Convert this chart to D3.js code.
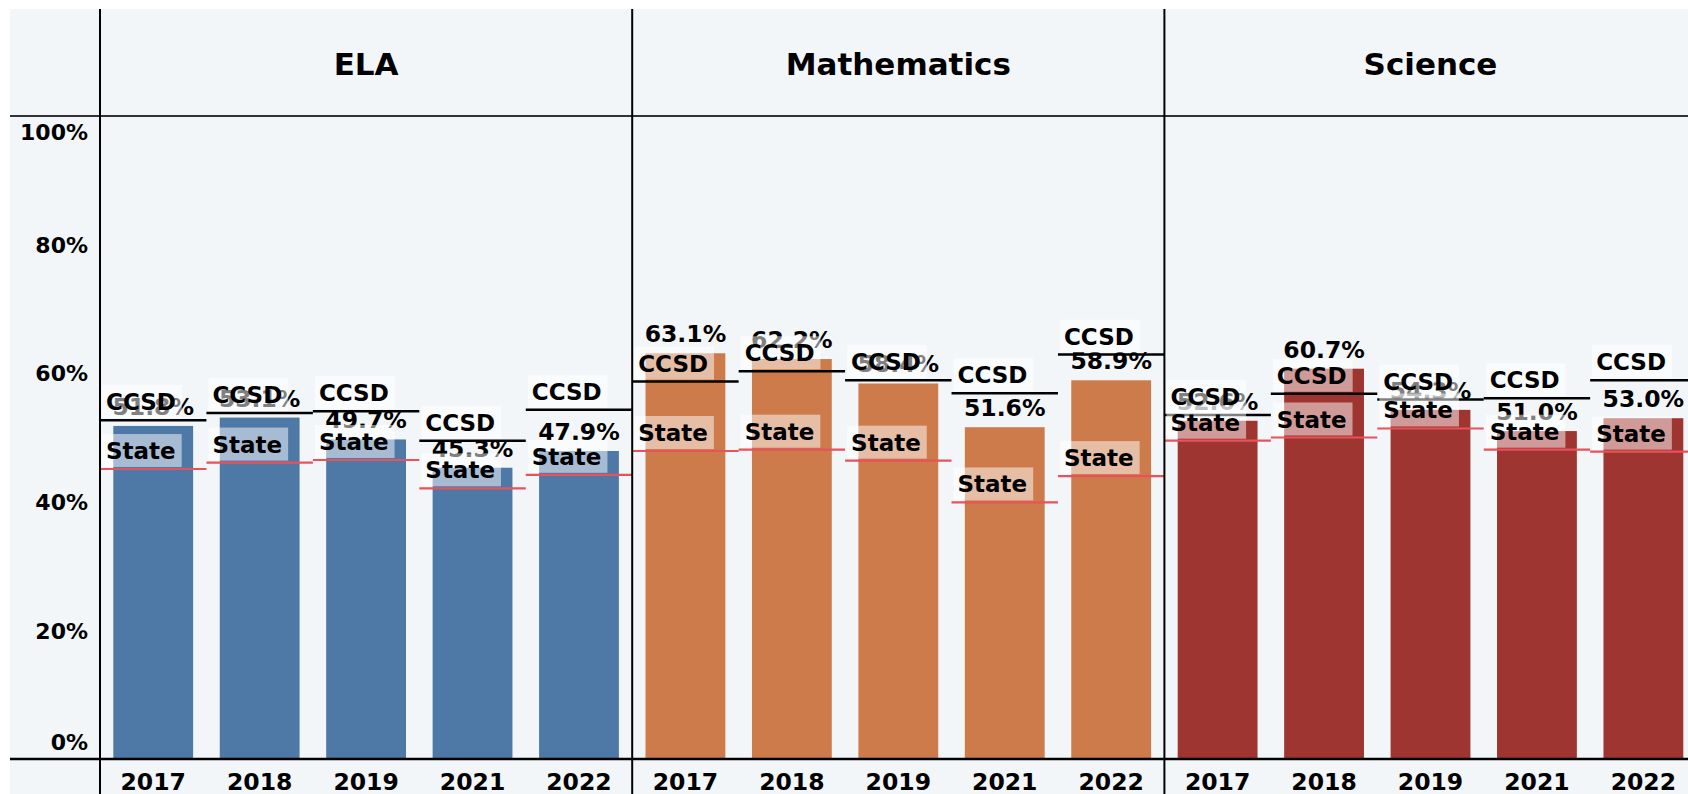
<!DOCTYPE html>
<html>
<head>
<meta charset="utf-8">
<script src="https://cdn.jsdelivr.net/npm/d3@7"></script>
<style>
  html, body { margin: 0; padding: 0; background: #fff; }
  svg { display: block; font-family: "DejaVu Sans", sans-serif; font-weight: bold; }
</style>
</head>
<body>
<div id="chart"></div>
<script>
/* -------------------------------------------------
   Proficiency by subject – school bars vs CCSD / State
   ------------------------------------------------- */
const subjects = ["ELA", "Mathematics", "Science"];
const years = ["2017", "2018", "2019", "2021", "2022"];
const yTicks = [0, 20, 40, 60, 80, 100];

// bar values (labelled %)
const elaScores     = [51.8, 53.1, 49.7, 45.3, 47.9];
const mathScores    = [63.1, 62.2, 58.4, 51.6, 58.9];
const scienceScores = [52.6, 60.7, 54.3, 51.0, 53.0];

// CCSD reference line
const elaCcsd     = [52.7, 53.8, 54.1, 49.5, 54.3];
const mathCcsd    = [58.7, 60.3, 58.9, 56.9, 62.9];
const scienceCcsd = [53.5, 56.8, 55.9, 56.1, 58.9];

// State reference line
const elaState     = [45.1, 46.1, 46.5, 42.1, 44.2];
const mathState    = [47.9, 48.1, 46.4, 39.9, 44.0];
const scienceState = [49.5, 50.0, 51.4, 48.1, 47.8];

(function () {

  const scores = [elaScores, mathScores, scienceScores];
  const ccsd   = [elaCcsd, mathCcsd, scienceCcsd];
  const state  = [elaState, mathState, scienceState];
  const colors = ["#4e79a7", "#cd7b4b", "#9e3531"];

  // ---------------------------------------------------------
  // SETUP
  // ---------------------------------------------------------
  const width = 1688;
  const height = 794;
  const left = 100;
  const panelW = 532.2;
  const top = 116;
  const bottom = 759;

  const svg = d3.select("#chart").append("svg")
      .attr("width", width)
      .attr("height", height);

  svg.append("rect")
      .attr("x", 10).attr("y", 9)
      .attr("width", width - 10).attr("height", height - 9)
      .attr("fill", "#f3f6f8");

  const y = d3.scaleLinear().domain([0, 100]).range([bottom, top]);

  const x = d3.scaleBand()
      .domain(years)
      .range([0, panelW])
      .paddingInner(0.25)
      .paddingOuter(0.125);

  const step = x.step();
  const cellLeft = d => x(d) - step * 0.125;

  // ---------------------------------------------------------
  // PANELS
  // ---------------------------------------------------------
  subjects.forEach((subject, i) => {
    const rows = years.map((yr, j) => ({
      year: yr, value: scores[i][j], ccsd: ccsd[i][j], state: state[i][j]
    }));

    const g = svg.append("g")
        .attr("transform", `translate(${left + i * panelW},0)`);

    g.append("text")
        .attr("x", panelW / 2)
        .attr("y", 75)
        .attr("text-anchor", "middle")
        .style("font-size", "31px")
        .text(subject);

    g.selectAll("rect.bar")
      .data(rows)
      .enter().append("rect")
        .attr("class", "bar")
        .attr("x", d => x(d.year))
        .attr("y", d => y(d.value))
        .attr("width", x.bandwidth())
        .attr("height", d => y(0) - y(d.value))
        .attr("fill", colors[i]);

    // reference lines span the whole cell
    g.selectAll("line.ccsd")
      .data(rows)
      .enter().append("line")
        .attr("x1", d => cellLeft(d.year))
        .attr("x2", d => cellLeft(d.year) + step)
        .attr("y1", d => y(d.ccsd))
        .attr("y2", d => y(d.ccsd))
        .attr("stroke", "#000")
        .attr("stroke-width", 2.5);

    g.selectAll("line.state")
      .data(rows)
      .enter().append("line")
        .attr("x1", d => cellLeft(d.year))
        .attr("x2", d => cellLeft(d.year) + step)
        .attr("y1", d => y(d.state))
        .attr("y2", d => y(d.state))
        .attr("stroke", "#e8525a")
        .attr("stroke-width", 2.2);

    // value labels
    g.selectAll("text.val")
      .data(rows)
      .enter().append("text")
        .attr("x", d => x(d.year) + x.bandwidth() / 2)
        .attr("y", d => y(d.value) - 11)
        .attr("text-anchor", "middle")
        .style("font-size", "23.5px")
        .text(d => d.value.toFixed(1) + "%");

    // reference line labels with translucent boxes
    rows.forEach(d => {
      [["CCSD", d.ccsd], ["State", d.state]].forEach(([name, v]) => {
        const ly = y(v);
        const box = g.append("rect")
            .attr("fill", "#fff")
            .attr("fill-opacity", 0.5);
        const t = g.append("text")
            .attr("x", cellLeft(d.year) + 6)
            .attr("y", ly - 10)
            .style("font-size", "23px")
            .text(name);
        const w = t.node().getComputedTextLength();
        box.attr("x", cellLeft(d.year) + 2)
            .attr("y", ly - 35)
            .attr("width", w + 10)
            .attr("height", 33);
      });
    });

    g.selectAll("text.year")
      .data(years)
      .enter().append("text")
        .attr("x", d => x(d) + x.bandwidth() / 2)
        .attr("y", 790)
        .attr("text-anchor", "middle")
        .style("font-size", "23.5px")
        .text(d => d);
  });

  // ---------------------------------------------------------
  // Y AXIS
  // ---------------------------------------------------------
  const axis = svg.append("g")
      .attr("transform", `translate(${left},0)`)
      .call(d3.axisLeft(y)
        .tickValues(yTicks)
        .tickFormat(d => d + "%")
        .tickSize(0)
        .tickPadding(12));

  axis.select(".domain").remove();
  axis.selectAll("text")
      .attr("fill", "#000")
      .style("font-family", "DejaVu Sans, sans-serif")
      .style("font-weight", "bold")
      .style("font-size", "22px")
      .attr("dy", d => d === 100 ? "1.05em" : d === 0 ? "-0.45em" : "0.35em");

  // ---------------------------------------------------------
  // FRAME LINES
  // ---------------------------------------------------------
  svg.append("line")
      .attr("x1", 10).attr("x2", width)
      .attr("y1", top).attr("y2", top)
      .attr("stroke", "#333").attr("stroke-width", 2);

  svg.append("line")
      .attr("x1", 10).attr("x2", width)
      .attr("y1", bottom).attr("y2", bottom)
      .attr("stroke", "#000").attr("stroke-width", 2.5);

  [0, 1, 2].forEach(i => {
    svg.append("line")
        .attr("x1", left + i * panelW).attr("x2", left + i * panelW)
        .attr("y1", 9).attr("y2", height)
        .attr("stroke", "#000").attr("stroke-width", 2);
  });

})();
</script>
</body>
</html>
